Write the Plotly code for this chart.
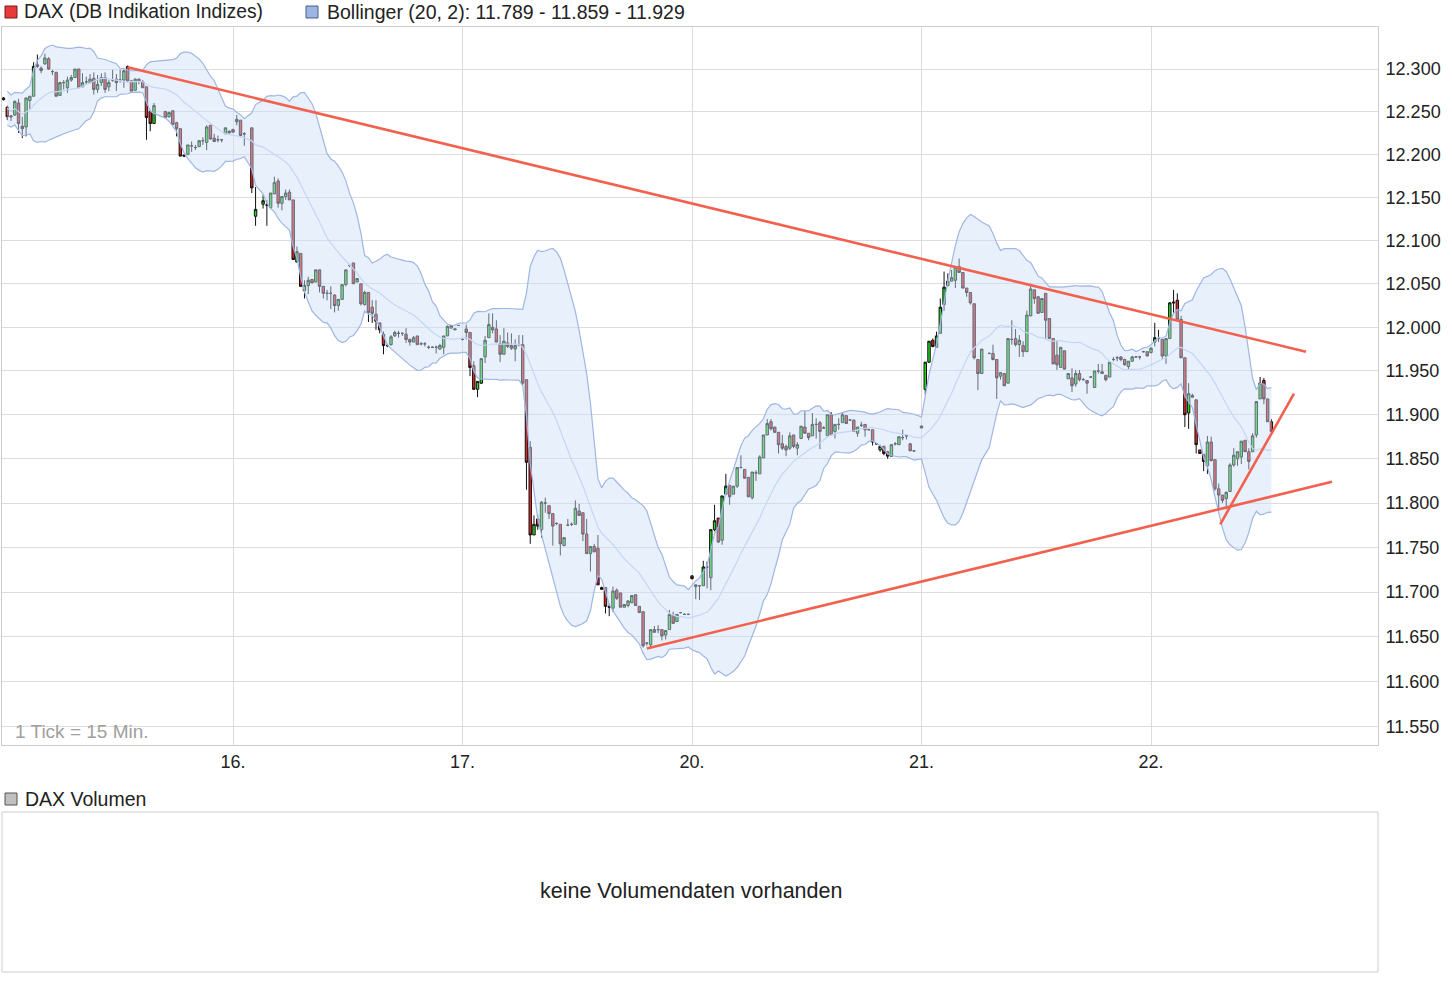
import math
import pandas as pd
import plotly.graph_objects as go

# ---------------- data (15-minute candles: [open, high, low, close], None = no trade) ----------------
SLOTS_PER_DAY = 61
day_tick_labels = ["16.", "17.", "20.", "21.", "22."]
price_ticks = [11550, 11600, 11650, 11700, 11750, 11800, 11850, 11900, 11950,
               12000, 12050, 12100, 12150, 12200, 12250, 12300]
price_tick_labels = ["11.550", "11.600", "11.650", "11.700", "11.750", "11.800", "11.850", "11.900",
                     "11.950", "12.000", "12.050", "12.100", "12.150", "12.200", "12.250", "12.300"]

day15 = [
    [12266, 12267, 12263, 12264], [12255, 12257, 12240, 12244], [12245, 12246, 12239, 12244],
    [12246, 12263, 12245, 12262], [12260, 12265, 12225, 12236], [12233, 12244, 12219, 12230],
    [12232, 12266, 12221, 12266], [12263, 12268, 12253, 12268], [12268, 12308, 12268, 12303],
    [12305, 12317, 12301, 12303], [12301, 12303, 12295, 12298], [12306, 12318, 12305, 12313],
    [12312, 12314, 12299, 12300], [12297, 12299, 12293, 12297], [12296, 12297, 12268, 12268],
    [12269, 12285, 12269, 12284], [12284, 12287, 12276, 12284], [12278, 12291, 12272, 12287],
    [12287, 12293, 12285, 12290], [12290, 12300, 12290, 12300], [12300, 12300, 12278, 12278],
    [12279, 12295, 12279, 12284], [12285, 12291, 12282, 12285], [12284, 12294, 12283, 12288],
    [12289, 12296, 12270, 12276], [12276, 12293, 12272, 12282], [12284, 12295, 12280, 12290],
    [12290, 12296, 12272, 12276], [12279, 12287, 12274, 12284], [12287, 12299, 12285, 12287],
    [12288, 12294, 12274, 12284], [12287, 12299, 12284, 12287], [12287, 12299, 12278, 12298],
    [12303, 12304, 12284, 12286], [12286, 12287, 12274, 12274], [12275, 12289, 12275, 12288],
    [12288, 12289, 12282, 12286], [12285, 12287, 12278, 12278], [12279, 12279, 12217, 12243],
    [12250, 12252, 12227, 12236], [12236, 12260, 12236, 12257], None, None,
    [12250, 12251, 12243, 12243], [12244, 12250, 12243, 12249], [12251, 12251, 12235, 12235],
    [12237, 12238, 12221, 12230], [12230, 12230, 12198, 12198], [12199, 12200, 12197, 12198],
    [12200, 12211, 12199, 12211], [12210, 12215, 12203, 12210], [12208, 12211, 12205, 12208],
    [12209, 12216, 12209, 12216], [12216, 12220, 12211, 12216], [12214, 12234, 12205, 12232],
    [12234, 12234, 12217, 12218], [12219, 12224, 12215, 12215], [12217, 12222, 12214, 12217],
    [12217, 12218, 12214, 12217], [12224, 12231, 12224, 12231], [12227, 12228, 12225, 12225],
]

day16 = [
    [12229, 12230, 12225, 12226], [12238, 12246, 12234, 12241], [12240, 12240, 12220, 12222],
    [12224, 12226, 12210, 12224], None, [12231, 12231, 12155, 12161],
    [12128, 12162, 12117, 12136], None, [12142, 12153, 12137, 12146],
    [12141, 12147, 12117, 12141], [12138, 12155, 12138, 12155], [12154, 12174, 12154, 12167],
    [12169, 12172, 12138, 12143], [12143, 12151, 12135, 12151], [12151, 12159, 12147, 12155],
    [12156, 12159, 12147, 12147], [12147, 12147, 12078, 12078], [12075, 12093, 12075, 12087],
    [12085, 12085, 12047, 12047], [12042, 12054, 12033, 12048], [12048, 12058, 12038, 12054],
    [12055, 12055, 12051, 12051], [12052, 12066, 12052, 12066], [12066, 12066, 12040, 12047],
    [12047, 12047, 12033, 12039], [12039, 12043, 12031, 12039], [12039, 12047, 12021, 12039],
    [12037, 12038, 12017, 12025], [12025, 12032, 12019, 12032], [12032, 12049, 12032, 12049],
    [12049, 12066, 12047, 12066], [12071, 12073, 12069, 12071], [12074, 12074, 12050, 12050],
    [12052, 12056, 12052, 12056], [12050, 12050, 12025, 12027], [12026, 12042, 12025, 12040],
    [12040, 12040, 12006, 12017], [12023, 12031, 12005, 12016], [12015, 12031, 11997, 12007],
    [12005, 12005, 11993, 11997], [11992, 11995, 11969, 11979], [11979, 11981, 11977, 11979],
    [11980, 11991, 11979, 11989], [11990, 11996, 11989, 11994], [11993, 11996, 11988, 11993],
    [11993, 11994, 11990, 11993], [11992, 11999, 11982, 11986], [11986, 11987, 11979, 11983],
    [11983, 11990, 11983, 11988], [11990, 11990, 11980, 11980], [11981, 11983, 11979, 11981],
    [11981, 11983, 11978, 11981], [11977, 11979, 11975, 11977], [11977, 11978, 11976, 11977],
    [11977, 11979, 11970, 11977], [11975, 11981, 11974, 11979], [11977, 11990, 11969, 11990],
    [11990, 12002, 11990, 12001], [11999, 12002, 11999, 12002], [11997, 11998, 11997, 11998],
    [12002, 12002, 12002, 12002],
]

day17 = [
    [11986, 11987, 11985, 11986], [11998, 12003, 11986, 11994], [11994, 11994, 11944, 11954],
    [11956, 11961, 11929, 11929], [11929, 11938, 11920, 11938], [11936, 11964, 11935, 11964],
    [11966, 11990, 11959, 11985], [11988, 12016, 11988, 12003], [12000, 12016, 11993, 11997],
    [11998, 12008, 11983, 11983], [11981, 11991, 11960, 11969], [11969, 11999, 11969, 11984],
    [11982, 11994, 11976, 11978], [11979, 11993, 11974, 11976], [11975, 11986, 11961, 11979],
    [11980, 11991, 11978, 11980], [11980, 11991, 11934, 11936], [11940, 11940, 11815, 11846],
    [11863, 11870, 11754, 11764], [11764, 11786, 11764, 11776], [11782, 11787, 11770, 11774],
    [11770, 11802, 11761, 11801], [11800, 11806, 11789, 11800], [11797, 11797, 11782, 11788],
    [11788, 11788, 11752, 11774], [11777, 11778, 11775, 11777], [11776, 11776, 11741, 11754],
    [11752, 11761, 11752, 11761], [11775, 11782, 11774, 11775], [11776, 11778, 11774, 11776],
    [11776, 11803, 11776, 11794], [11791, 11799, 11786, 11786], [11789, 11789, 11757, 11765],
    [11765, 11782, 11743, 11743], [11743, 11751, 11723, 11751], [11751, 11754, 11745, 11745],
    [11749, 11764, 11708, 11708], [11705, 11706, 11703, 11703], [11705, 11705, 11676, 11684],
    [11684, 11687, 11673, 11683], [11682, 11706, 11678, 11701], [11702, 11704, 11691, 11693],
    [11699, 11699, 11683, 11683], [11683, 11686, 11683, 11686], [11685, 11691, 11683, 11690],
    [11688, 11696, 11688, 11696], [11697, 11697, 11685, 11685], [11684, 11684, 11677, 11677],
    [11678, 11678, 11638, 11640], [11643, 11644, 11640, 11643], [11641, 11658, 11638, 11658],
    [11658, 11662, 11655, 11655], [11658, 11663, 11654, 11658], [11658, 11658, 11646, 11651],
    [11652, 11657, 11647, 11657], [11658, 11680, 11658, 11675], [11674, 11678, 11665, 11665],
    [11667, 11675, 11667, 11675], [11677, 11677, 11676, 11677], [11675, 11676, 11675, 11675],
    [11675, 11676, 11675, 11675],
]

day20 = [
    [11718, 11719, 11714, 11715], [11706, 11708, 11692, 11708], [11707, 11707, 11691, 11707],
    [11707, 11735, 11707, 11728], [11728, 11734, 11704, 11728], [11716, 11770, 11702, 11770],
    [11770, 11798, 11768, 11780], [11783, 11783, 11755, 11756], [11758, 11808, 11753, 11808],
    [11810, 11833, 11810, 11819], [11820, 11820, 11798, 11807], [11810, 11819, 11810, 11819],
    [11819, 11840, 11817, 11840], [11840, 11854, 11840, 11840], [11838, 11838, 11828, 11828],
    [11829, 11829, 11807, 11807], [11806, 11835, 11804, 11835], [11834, 11837, 11825, 11834],
    [11833, 11854, 11833, 11852], [11851, 11877, 11851, 11877], [11877, 11895, 11877, 11890],
    [11892, 11895, 11882, 11884], [11886, 11886, 11880, 11880], [11880, 11880, 11856, 11866],
    [11867, 11877, 11860, 11862], [11864, 11866, 11853, 11860], [11862, 11880, 11860, 11876],
    [11877, 11877, 11862, 11864], [11862, 11869, 11854, 11866], [11873, 11887, 11873, 11887],
    [11886, 11904, 11879, 11879], [11879, 11879, 11871, 11874], [11876, 11902, 11876, 11889],
    [11889, 11896, 11873, 11889], [11891, 11893, 11861, 11881], [11885, 11887, 11884, 11885],
    [11876, 11900, 11876, 11900], [11900, 11903, 11877, 11877], [11881, 11889, 11873, 11889],
    [11889, 11896, 11883, 11889], [11891, 11902, 11891, 11900], [11899, 11899, 11890, 11890],
    [11894, 11895, 11893, 11894], [11894, 11894, 11881, 11881], [11879, 11886, 11875, 11886],
    [11888, 11892, 11886, 11888], [11889, 11889, 11875, 11883], [11883, 11884, 11882, 11883],
    [11883, 11883, 11865, 11869], [11867, 11868, 11866, 11867], [11860, 11866, 11858, 11864],
    [11864, 11865, 11854, 11856], [11858, 11859, 11850, 11853], [11853, 11866, 11853, 11866],
    [11867, 11869, 11865, 11867], [11866, 11875, 11866, 11875], [11874, 11883, 11871, 11874],
    [11876, 11877, 11872, 11876], [11867, 11868, 11859, 11859], [11859, 11860, 11858, 11859],
    None,
]

day21 = [
    [11887, 11888, 11885, 11885], [11929, 11960, 11923, 11960], [11960, 11984, 11959, 11984],
    [11985, 11987, 11977, 11978], [11977, 11995, 11977, 11990], [11993, 12033, 11993, 12023],
    [12026, 12064, 12019, 12046], [12048, 12062, 12047, 12053], [12053, 12066, 12053, 12057],
    [12054, 12070, 12045, 12069], [12070, 12079, 12063, 12063], [12063, 12063, 12045, 12045],
    [12045, 12045, 12035, 12040], [12040, 12040, 12026, 12028], [12027, 12027, 11963, 11965],
    [11963, 11963, 11928, 11947], [11947, 11975, 11947, 11975], None,
    [11970, 11971, 11969, 11970], [11970, 11980, 11962, 11963], [11963, 11963, 11918, 11942],
    [11944, 11948, 11940, 11948], [11947, 11947, 11933, 11933], [11936, 11987, 11936, 11987],
    [11986, 12008, 11980, 11986], [11987, 11998, 11978, 11980], [11980, 11991, 11966, 11985],
    [11979, 11984, 11966, 11972], [11972, 12019, 11972, 12014], [12013, 12050, 12013, 12044],
    [12043, 12043, 12027, 12033], [12035, 12035, 12016, 12016], [12017, 12033, 12017, 12033],
    [12039, 12039, 11987, 12008], [12010, 12010, 11987, 11987], [11987, 11987, 11958, 11958],
    [11968, 11985, 11951, 11957], [11954, 11977, 11954, 11977], [11973, 11973, 11952, 11952],
    [11941, 11947, 11941, 11947], [11942, 11953, 11926, 11933], [11935, 11951, 11932, 11947],
    [11947, 11951, 11938, 11940], [11940, 11942, 11939, 11940], [11939, 11939, 11924, 11936],
    [11943, 11944, 11942, 11943], [11931, 11950, 11931, 11950], [11950, 11958, 11947, 11950],
    [11947, 11958, 11947, 11949], [11945, 11945, 11938, 11940], [11943, 11960, 11943, 11960],
    [11963, 11966, 11961, 11963], [11965, 11967, 11961, 11965], [11966, 11967, 11961, 11963],
    [11963, 11964, 11956, 11957], [11955, 11961, 11952, 11961], [11961, 11967, 11961, 11966],
    [11966, 11967, 11965, 11966], [11966, 11967, 11963, 11966], [11972, 11973, 11971, 11972],
    [11972, 11972, 11967, 11967],
]

day22 = [
    [11971, 11977, 11970, 11976], [11983, 12005, 11978, 11988], [11987, 11997, 11983, 11987],
    [11986, 11986, 11964, 11967], [11967, 11987, 11958, 11987], [11987, 12029, 11987, 12028],
    [12029, 12043, 12016, 12028], [12031, 12039, 12009, 12009], [12009, 12013, 11965, 11965],
    [11965, 11965, 11886, 11900], [11902, 11936, 11884, 11924], [11922, 11924, 11920, 11920],
    [11917, 11917, 11856, 11866], [11860, 11860, 11856, 11856], [11855, 11855, 11836, 11847],
    [11842, 11876, 11833, 11869], [11869, 11875, 11847, 11848], [11849, 11849, 11814, 11816],
    [11816, 11822, 11793, 11809], [11809, 11809, 11800, 11803], [11805, 11813, 11793, 11812],
    [11813, 11845, 11813, 11843], [11843, 11862, 11841, 11854], [11850, 11858, 11842, 11858],
    [11852, 11870, 11844, 11870], [11871, 11871, 11858, 11858], [11858, 11862, 11838, 11847],
    [11858, 11879, 11858, 11876], [11877, 11915, 11874, 11915], [11918, 11943, 11918, 11936],
    [11939, 11942, 11912, 11918], [11918, 11918, 11892, 11892], [11892, 11895, 11881, 11881],
]

days = [day15, day16, day17, day20, day21, day22]

# hand-drawn trend lines: (slot position, price) at both ends
trend_x0 = [33.0, 171.0, 323.4]
trend_y0 = [12302, 11637, 11776]
trend_x1 = [346.2, 353.1, 343.0]
trend_y1 = [11972, 11824, 11924]

bollinger_label = "Bollinger (20, 2): 11.789 - 11.859 - 11.929"

# ---------------- build series ----------------
xs, o, h, l, c = [], [], [], [], []
for d, rows in enumerate(days):
    for s, r in enumerate(rows):
        if r is None:
            continue
        xs.append(d * SLOTS_PER_DAY + s)
        o.append(r[0]); h.append(r[1]); l.append(r[2]); c.append(r[3])

close = pd.Series(c, dtype=float)
mid = close.rolling(20, min_periods=2).mean()
sd = close.rolling(20, min_periods=2).std(ddof=0)
upper = mid + 2 * sd
lower = mid - 2 * sd

W, H = 1452, 992
PX_LEFT, PX_RIGHT, PX_TOP, PX_BOTTOM = 2, 1378, 27, 745
px_slot0 = 3.5
px_per_slot = 229.5 / SLOTS_PER_DAY
x_range = [(PX_LEFT - px_slot0) / px_per_slot, (PX_RIGHT - px_slot0) / px_per_slot]
y_lo = 12300 * math.exp(-(PX_BOTTOM - 69) / 10458.0)
y_hi = 12300 * math.exp((69 - PX_TOP) / 10458.0)

EDGE = "#9fb6e4"
MIDC = "#c4d6f5"
FILL = "rgba(205,222,248,0.45)"
TREND = "#f2604e"

fig = go.Figure()
fig.add_trace(go.Scatter(x=xs, y=upper, mode="lines", line=dict(color=EDGE, width=1.2),
                         hoverinfo="skip", showlegend=False))
fig.add_trace(go.Scatter(x=xs, y=lower, mode="lines", line=dict(color=EDGE, width=1.2),
                         fill="tonexty", fillcolor=FILL, hoverinfo="skip", showlegend=False))
fig.add_trace(go.Scatter(x=xs, y=mid, mode="lines", line=dict(color=MIDC, width=1.2),
                         hoverinfo="skip", showlegend=False))
fig.add_trace(go.Candlestick(
    x=xs, open=o, high=h, low=l, close=c,
    increasing=dict(line=dict(color="#111111", width=1), fillcolor="#22dd22"),
    decreasing=dict(line=dict(color="#111111", width=1), fillcolor="#e02424"),
    whiskerwidth=0, showlegend=False, name="DAX"))
for i in range(len(trend_x0)):
    fig.add_trace(go.Scatter(x=[trend_x0[i], trend_x1[i]], y=[trend_y0[i], trend_y1[i]],
                             mode="lines", line=dict(color=TREND, width=2.6),
                             hoverinfo="skip", showlegend=False))

FONT = "Liberation Sans, Arial, sans-serif"
fig.update_layout(
    width=W, height=H,
    margin=dict(l=0, r=0, t=0, b=0),
    paper_bgcolor="white", plot_bgcolor="white",
    font=dict(family=FONT, size=18, color="#222"),
    showlegend=False,
    boxgap=0.08,
    xaxis=dict(domain=[PX_LEFT / W, PX_RIGHT / W], range=x_range,
               tickvals=[SLOTS_PER_DAY * (k + 1) for k in range(len(day_tick_labels))],
               ticktext=day_tick_labels, showgrid=True, gridcolor="#dcdcdc", gridwidth=1,
               zeroline=False, showline=True, mirror=True, linecolor="#cccccc", linewidth=1,
               ticks="", rangeslider=dict(visible=False), fixedrange=True),
    yaxis=dict(domain=[1 - PX_BOTTOM / H, 1 - PX_TOP / H], type="log",
               range=[math.log10(y_lo), math.log10(y_hi)], side="right",
               tickvals=price_ticks, ticktext=price_tick_labels,
               showgrid=True, gridcolor="#dcdcdc", gridwidth=1, zeroline=False,
               showline=True, mirror=True, linecolor="#cccccc", linewidth=1,
               ticks="outside", ticklen=3, tickcolor="rgba(0,0,0,0)", fixedrange=True),
)

shapes = [
    # legend squares
    dict(type="rect", xref="paper", yref="paper", x0=5 / W, x1=17 / W, y0=1 - 18 / H, y1=1 - 6 / H,
         fillcolor="#e83a3a", line=dict(color="#7a1a1a", width=1)),
    dict(type="rect", xref="paper", yref="paper", x0=306 / W, x1=318 / W, y0=1 - 18 / H, y1=1 - 6 / H,
         fillcolor="#9db5e3", line=dict(color="#4a5f8a", width=1)),
    dict(type="rect", xref="paper", yref="paper", x0=5 / W, x1=17 / W, y0=1 - 805 / H, y1=1 - 793 / H,
         fillcolor="#c0c0c0", line=dict(color="#555555", width=1)),
    # volume panel frame
    dict(type="rect", xref="paper", yref="paper", x0=PX_LEFT / W, x1=PX_RIGHT / W,
         y0=1 - 972 / H, y1=1 - 812 / H, line=dict(color="#cccccc", width=1)),
]
fig.update_layout(shapes=shapes)

ann = [
    dict(text="DAX (DB Indikation Indizes)", x=22 / W, y=1 - 12 / H, xanchor="left", yanchor="middle",
         font=dict(size=19.3, color="#222")),
    dict(text=bollinger_label, x=325 / W, y=1 - 12 / H, xanchor="left", yanchor="middle",
         font=dict(size=19.5, color="#222")),
    dict(text="1 Tick = 15 Min.", x=13 / W, y=1 - 731 / H, xanchor="left", yanchor="middle",
         font=dict(size=19, color="#a0a0a0")),
    dict(text="DAX Volumen", x=23 / W, y=1 - 799 / H, xanchor="left", yanchor="middle",
         font=dict(size=19.5, color="#222")),
    dict(text="keine Volumendaten vorhanden", x=691 / W, y=1 - 891 / H, xanchor="center",
         yanchor="middle", font=dict(size=21.5, color="#222")),
]
for a in ann:
    a.update(xref="paper", yref="paper", showarrow=False)
fig.update_layout(annotations=ann)

fig.write_html("out.html", config={"displayModeBar": False},
               post_script="document.body.style.margin='0px';")
